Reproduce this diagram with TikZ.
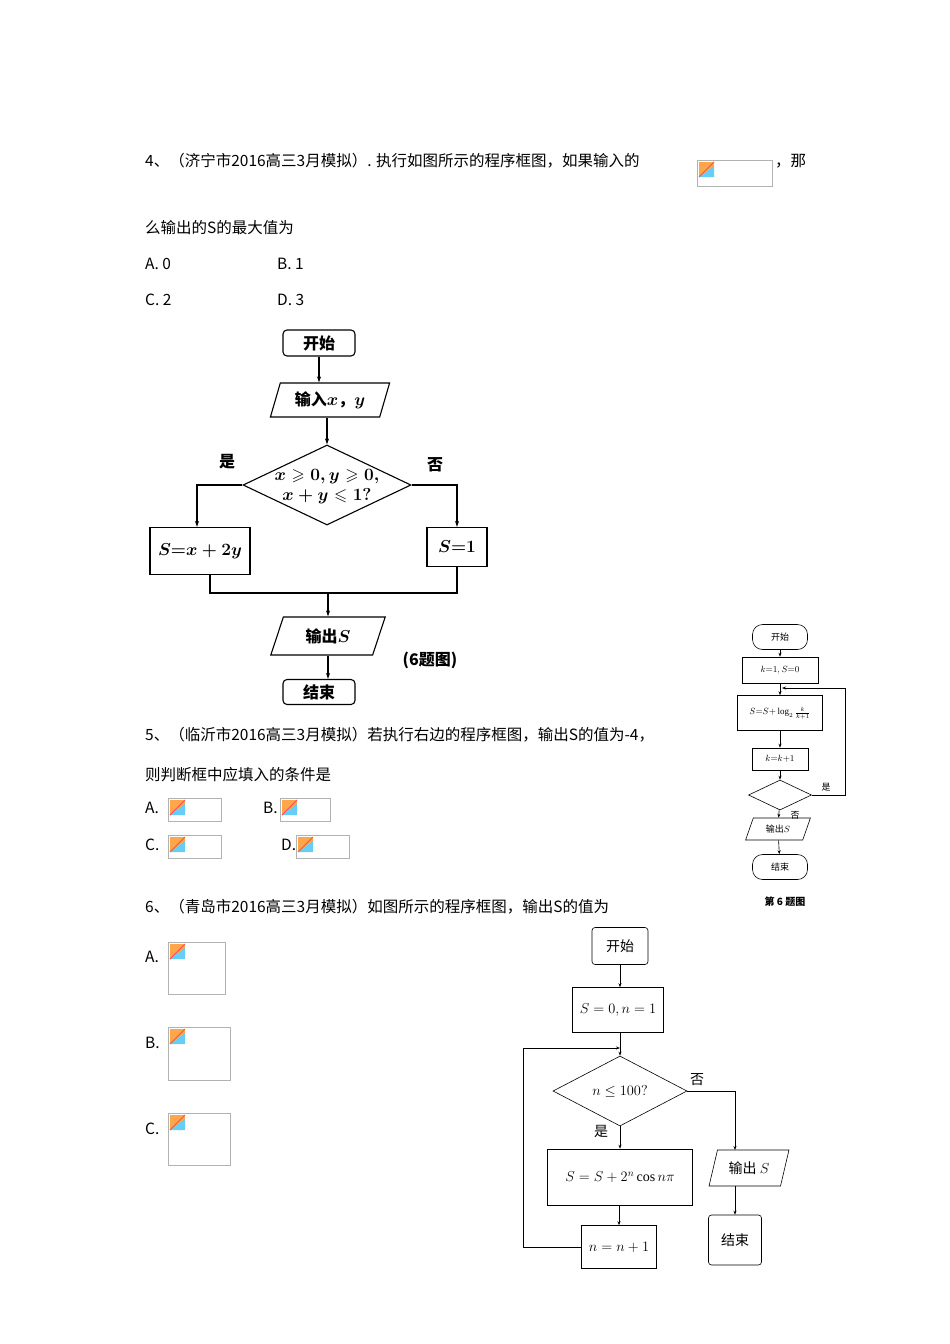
\documentclass[tikz,border=0pt]{standalone}
\usepackage{amsmath,amssymb}
\usepackage{fontspec}
\setmainfont{Liberation Serif}
\newfontfamily\cjk{Noto Sans CJK SC}
\usetikzlibrary{shapes.geometric,arrows.meta}
\begin{document}
\begin{tikzpicture}[x=1pt,y=-1pt,
 txt/.style={anchor=west,inner sep=0,font=\cjk\fontsize{15.5}{15.5}\selectfont},
 ph/.style={draw=gray!60,line width=0.5pt},
 ln/.style={line width=1.1pt},
 ar/.style={line width=1.1pt,-{Stealth[length=6pt,width=4pt]}},
 bt/.style={font=\cjk\bfseries\fontsize{16}{16}\selectfont},
 sm/.style={font=\cjk\fontsize{9}{9}\selectfont},
 tl/.style={line width=0.6pt},
 ta/.style={line width=0.6pt,-{Stealth[length=4pt,width=3pt]}},
 md/.style={font=\cjk\fontsize{14}{14}\selectfont},
 tz/.style={trapezium,trapezium left angle=70,trapezium right angle=110,inner xsep=0pt,inner ysep=1pt,trapezium stretches=true}]
\useasboundingbox[fill=white] (0,0) rectangle (950,1344);
\newcommand{\phicon}[4]{\draw[ph] (#1,#2) rectangle (#3,#4);
 \fill[orange!70] (#1+2,#2+2) rectangle (#1+17,#2+17);
 \fill[cyan!60] (#1+2,#2+17) -- (#1+17,#2+6) -- (#1+17,#2+17) -- cycle;
 \draw[red!70,line width=1pt] (#1+2,#2+17) -- (#1+17,#2+2);}
% text
\node[txt] (t1) at (145,161) {4、（济宁市2016高三3月模拟）. 执行如图所示的程序框图，如果输入的};
\phicon{697}{160}{772}{186}
\node[txt] (t1b) at (775,161) {，那};
\node[txt] (t2) at (145,228) {么输出的S的最大值为};
\node[txt] (a4) at (145,264) {A. 0};
\node[txt] (b4) at (277,264) {B. 1};
\node[txt] (c4) at (145,300) {C. 2};
\node[txt] (d4) at (277,300) {D. 3};
\node[txt] (t5) at (145,735) {5、（临沂市2016高三3月模拟）若执行右边的程序框图，输出S的值为-4，};
\node[txt] (t5b) at (145,775) {则判断框中应填入的条件是};
\node[txt] (a5) at (145,808) {A.}; \phicon{168}{798}{221}{821}
\node[txt] (b5) at (263,808) {B.}; \phicon{280}{798}{330}{821}
\node[txt] (c5) at (145,845) {C.}; \phicon{168}{835}{221}{858}
\node[txt] (d5) at (281,845) {D.}; \phicon{296}{835}{349}{858}
\node[txt] (t6) at (145,907) {6、（青岛市2016高三3月模拟）如图所示的程序框图，输出S的值为};
\node[txt] (a6) at (145,957) {A.}; \phicon{168}{942}{225}{994}
\node[txt] (b6) at (145,1043) {B.}; \phicon{168}{1027}{230}{1080}
\node[txt] (c6) at (145,1129) {C.}; \phicon{168}{1113}{230}{1165}
% chart 1
\node[ln,draw,rounded corners=4pt,minimum width=72,minimum height=26,bt] (s1) at (319,343) {开始};
\node[ln,draw,tz,minimum width=120,minimum height=34,bt] (in1) at (330,400) {输入$\boldsymbol{x}$，$\boldsymbol{y}$};
\node[ln,draw,diamond,aspect=2.1,minimum width=168,minimum height=80,inner sep=0] (d1) at (327,485) {};
\node[bt,align=center,font=\bfseries\fontsize{17}{20}\selectfont] (d1t) at (327,487) {$\boldsymbol{x\geqslant0,y\geqslant0,}$\\$\boldsymbol{x+y\leqslant1?}$};
\node[bt] (yes1) at (227,462) {是};
\node[bt] (no1) at (435,465) {否};
\node[ln,draw,minimum width=100,minimum height=47,bt,font=\bfseries\fontsize{18}{18}\selectfont] (p1) at (200,551) {$\boldsymbol{S{=}x+2y}$};
\node[ln,draw,minimum width=60,minimum height=39,bt,font=\bfseries\fontsize{18}{18}\selectfont] (q1) at (457,547) {$\boldsymbol{S{=}1}$};
\node[ln,draw,tz,minimum width=115,minimum height=38,bt] (o1) at (328,636) {输出$\boldsymbol{S}$};
\node[bt] (cap1) at (430,660) {(6题图)};
\node[ln,draw,rounded corners=4pt,minimum width=72,minimum height=25,bt] (e1) at (319,692) {结束};
\coordinate (m1) at (328,593);
\draw[ar] (s1) -- (s1|-in1.north);
\draw[ar] (in1.south-|d1) -- (d1.north);
\draw[ar] (d1.west) -| (p1.north-|197,0);
\draw[ar] (d1.east) -| (q1.north);
\draw[ln] (p1.south-|210,0) |- (m1);
\draw[ln] (q1.south) |- (m1);
\draw[ar] (m1) -- (o1.north-|m1);
\draw[ar] (o1.south-|m1) -- (e1.north-|m1);
% chart 2
\node[tl,draw,rounded corners=10pt,minimum width=55,minimum height=25,sm] (s2) at (780,637) {开始};
\node[tl,draw,minimum width=76,minimum height=26,sm] (i2) at (780,670) {$k{=}1,S{=}0$};
\node[tl,draw,minimum width=85,minimum height=35,sm] (b2) at (780,713) {$S{=}S{+}\log_2\frac{k}{k+1}$};
\node[tl,draw,minimum width=56,minimum height=22,sm] (k2) at (780,759) {$k{=}k{+}1$};
\node[tl,draw,diamond,aspect=2.1,minimum width=63,minimum height=30,inner sep=0] (d2) at (780,795) {};
\node[sm] (yes2) at (826,787) {是};
\node[sm] (no2) at (795,815) {否};
\node[tl,draw,tz,minimum width=65,minimum height=22,sm] (o2) at (778,829) {输出$S$};
\node[tl,draw,rounded corners=10pt,minimum width=55,minimum height=25,sm] (e2) at (780,867) {结束};
\node[sm,font=\cjk\bfseries\fontsize{10}{10}\selectfont] (cap2) at (785,902) {第 6 题图};
\coordinate (l2) at (782,688);
\draw[ta] (s2) -- (i2);
\draw[ta] (i2) -- (b2);
\draw[ta] (b2) -- (k2);
\draw[ta] (k2) -- (d2);
\draw[ta] (d2) -- (o2);
\draw[ta] (o2) -- (e2);
\draw[ta] (d2.east) -| (845,688) -- (l2);
% chart 3
\node[tl,draw,rounded corners=3pt,minimum width=56,minimum height=37,md] (s3) at (620,946) {开始};
\node[tl,draw,minimum width=91,minimum height=45,md] (i3) at (618,1010) {$S=0,n=1$};
\node[tl,draw,diamond,aspect=1.9,minimum width=134,minimum height=70,inner sep=0,md] (d3) at (620,1091) {$n\le100?$};
\node[md] (no3) at (697,1080) {否};
\node[md] (yes3) at (601,1131) {是};
\node[tl,draw,minimum width=145,minimum height=56,md] (b3) at (620,1177) {$S=S+2^n\cos n\pi$};
\node[tl,draw,minimum width=75,minimum height=43,md] (n3) at (619,1247) {$n=n+1$};
\node[tl,draw,tz,minimum width=80,minimum height=36,md] (o3) at (749,1168) {输出 $S$};
\node[tl,draw,rounded corners=3pt,minimum width=53,minimum height=50,md] (e3) at (735,1240) {结束};
\coordinate (l3) at (620,1048);
\draw[ta] (s3) -- (s3|-i3.north);
\draw[ta] (i3.south-|d3) -- (d3.north);
\draw[ta] (d3) -- (b3);
\draw[ta] (b3.south-|n3) -- (n3);
\draw[ta] (d3.east) -| (735,1150);
\draw[ta] (735,1186) -- (e3);
\draw[ta] (n3.west) -| (523,1048) -- (l3);
\end{tikzpicture}
\end{document}
